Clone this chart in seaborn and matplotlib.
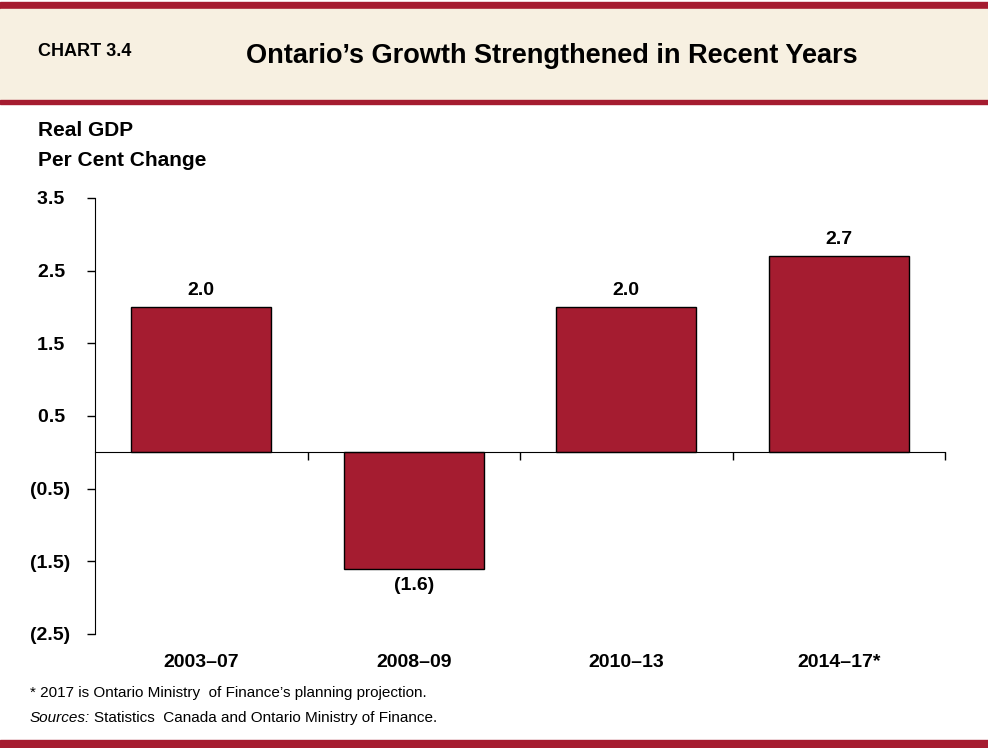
import matplotlib
matplotlib.use("Agg")
import matplotlib.pyplot as plt
import seaborn as sns
import pandas as pd
from matplotlib.patches import Rectangle

# Chart data
periods = ["2003–07", "2008–09", "2010–13", "2014–17*"]
growth = [2.0, -1.6, 2.0, 2.7]
y_ticks = [-2.5, -1.5, -0.5, 0.5, 1.5, 2.5, 3.5]

RED = "#A51C30"
BEIGE = "#F7F0E1"

def paren(v):
    return f"({abs(v):.1f})" if v < 0 else f"{v:.1f}"

sns.set_style("white")
plt.rcParams["font.family"] = ["Liberation Sans", "DejaVu Sans"]
plt.rcParams["text.color"] = "black"
plt.rcParams["xtick.color"] = "black"
plt.rcParams["ytick.color"] = "black"

df = pd.DataFrame({"period": periods, "growth": growth})

fig = plt.figure(figsize=(9.88, 7.48), dpi=100)
ax = fig.add_axes([95 / 988, 1 - 634 / 748, 850 / 988, 436 / 748])

sns.barplot(data=df, x="period", y="growth", color=RED, saturation=1,
            width=0.66, edgecolor="black", linewidth=1, ax=ax)

ax.set_ylim(-2.5, 3.5)
ax.set_xlim(-0.5, len(periods) - 0.5)
ax.set_yticks(y_ticks)
# trailing space keeps positives in line with the closing parenthesis
ax.set_yticklabels([paren(v) if v < 0 else paren(v) + " " for v in y_ticks],
                   fontsize=14, fontweight="bold")
ax.tick_params(axis="y", left=True, length=6, width=1, direction="out", pad=12)
ax.set_xlabel("")
ax.set_ylabel("")

# x spine at zero, boundary ticks
ax.spines["top"].set_visible(False)
ax.spines["right"].set_visible(False)
ax.spines["bottom"].set_position(("data", 0))
ax.spines["left"].set_color("black")
ax.spines["bottom"].set_color("black")
ax.set_xticks([i + 0.5 for i in range(len(periods))])
ax.set_xticklabels([])
ax.tick_params(axis="x", bottom=True, length=6, width=1, direction="out")

# category labels below plot
for i, p in enumerate(periods):
    ax.text(i, -0.065, p, transform=ax.get_xaxis_transform(), ha="center", va="center",
            fontsize=14, fontweight="bold")

# value labels
for bar_container in ax.containers:
    ax.bar_label(bar_container, labels=[paren(v) for v in growth], padding=6,
                 fontsize=14, fontweight="bold")

# header and footer bands
fig.patches.append(Rectangle((0, 1 - 9 / 748), 1, 7 / 748, transform=fig.transFigure,
                             color=RED, zorder=0))
fig.patches.append(Rectangle((0, 1 - 100 / 748), 1, 91 / 748, transform=fig.transFigure,
                             color=BEIGE, zorder=0))
fig.patches.append(Rectangle((0, 1 - 104 / 748), 1, 4 / 748, transform=fig.transFigure,
                             color=RED, zorder=0))
fig.patches.append(Rectangle((0, 0), 1, 8 / 748, transform=fig.transFigure,
                             color=RED, zorder=0))

fig.text(38 / 988, 1 - 52 / 748, "CHART 3.4", fontsize=13, fontweight="bold", va="center")
fig.text(552 / 988, 1 - 56 / 748, "Ontario’s Growth Strengthened in Recent Years",
         fontsize=19.5, fontweight="bold", ha="center", va="center")
fig.text(38 / 988, 1 - 130 / 748, "Real GDP", fontsize=15, fontweight="bold", va="center")
fig.text(38 / 988, 1 - 160 / 748, "Per Cent Change", fontsize=15, fontweight="bold", va="center")

fig.text(30 / 988, 1 - 693 / 748, "* 2017 is Ontario Ministry  of Finance’s planning projection.",
         fontsize=11, va="center")
t1 = fig.text(30 / 988, 1 - 718 / 748, "Sources:", fontsize=11, va="center", style="italic")
fig.canvas.draw()
bb = t1.get_window_extent()
fig.text((bb.x1 + 4) / 988, 1 - 718 / 748, "Statistics  Canada and Ontario Ministry of Finance.",
         fontsize=11, va="center")

fig.savefig("out.png", dpi=100)
